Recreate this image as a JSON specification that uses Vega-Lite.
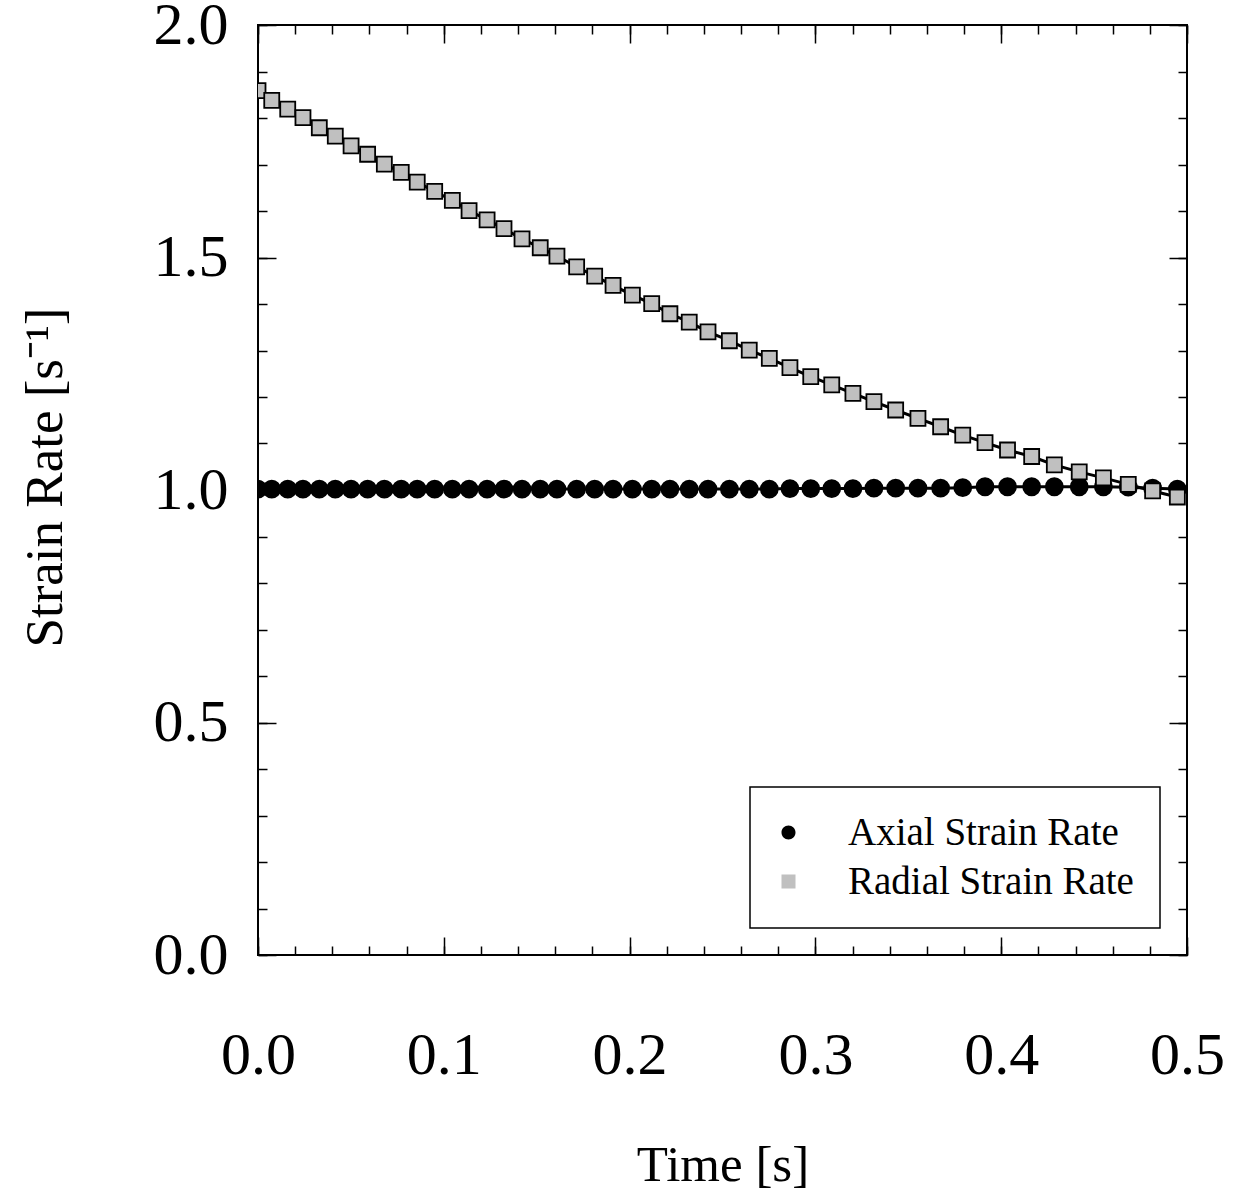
{
  "$schema": "https://vega.github.io/schema/vega-lite/v6.json",
  "width": 929,
  "height": 930,
  "autosize": "none",
  "padding": {"left": 258, "top": 25, "right": 46, "bottom": 245},
  "config": {
    "font": "Liberation Serif",
    "view": {"stroke": "black", "strokeWidth": 2},
    "axis": {"grid": false, "domain": false, "tickColor": "black", "tickWidth": 1.5, "labelColor": "black", "titleColor": "black", "labelFont": "Liberation Serif", "titleFont": "Liberation Serif", "titleFontWeight": "normal"},
    "legend": {"strokeWidth": 1.5}
  },
  "data": {"values": [
    {"t": 0, "v": 1.002, "series": "Axial Strain Rate"},
    {"t": 0.0074, "v": 1.002, "series": "Axial Strain Rate"},
    {"t": 0.0160, "v": 1.002, "series": "Axial Strain Rate"},
    {"t": 0.0242, "v": 1.002, "series": "Axial Strain Rate"},
    {"t": 0.0330, "v": 1.002, "series": "Axial Strain Rate"},
    {"t": 0.0416, "v": 1.002, "series": "Axial Strain Rate"},
    {"t": 0.0501, "v": 1.002, "series": "Axial Strain Rate"},
    {"t": 0.0590, "v": 1.002, "series": "Axial Strain Rate"},
    {"t": 0.0680, "v": 1.002, "series": "Axial Strain Rate"},
    {"t": 0.0771, "v": 1.002, "series": "Axial Strain Rate"},
    {"t": 0.0857, "v": 1.002, "series": "Axial Strain Rate"},
    {"t": 0.0951, "v": 1.002, "series": "Axial Strain Rate"},
    {"t": 0.1046, "v": 1.002, "series": "Axial Strain Rate"},
    {"t": 0.1136, "v": 1.002, "series": "Axial Strain Rate"},
    {"t": 0.1233, "v": 1.002, "series": "Axial Strain Rate"},
    {"t": 0.1324, "v": 1.002, "series": "Axial Strain Rate"},
    {"t": 0.1421, "v": 1.002, "series": "Axial Strain Rate"},
    {"t": 0.1519, "v": 1.002, "series": "Axial Strain Rate"},
    {"t": 0.1609, "v": 1.002, "series": "Axial Strain Rate"},
    {"t": 0.1715, "v": 1.002, "series": "Axial Strain Rate"},
    {"t": 0.1812, "v": 1.002, "series": "Axial Strain Rate"},
    {"t": 0.1911, "v": 1.002, "series": "Axial Strain Rate"},
    {"t": 0.2015, "v": 1.002, "series": "Axial Strain Rate"},
    {"t": 0.2119, "v": 1.002, "series": "Axial Strain Rate"},
    {"t": 0.2217, "v": 1.002, "series": "Axial Strain Rate"},
    {"t": 0.2321, "v": 1.002, "series": "Axial Strain Rate"},
    {"t": 0.2422, "v": 1.002, "series": "Axial Strain Rate"},
    {"t": 0.2537, "v": 1.002, "series": "Axial Strain Rate"},
    {"t": 0.2644, "v": 1.002, "series": "Axial Strain Rate"},
    {"t": 0.2752, "v": 1.002, "series": "Axial Strain Rate"},
    {"t": 0.2863, "v": 1.003, "series": "Axial Strain Rate"},
    {"t": 0.2975, "v": 1.003, "series": "Axial Strain Rate"},
    {"t": 0.3088, "v": 1.003, "series": "Axial Strain Rate"},
    {"t": 0.3202, "v": 1.003, "series": "Axial Strain Rate"},
    {"t": 0.3315, "v": 1.004, "series": "Axial Strain Rate"},
    {"t": 0.3432, "v": 1.004, "series": "Axial Strain Rate"},
    {"t": 0.3552, "v": 1.004, "series": "Axial Strain Rate"},
    {"t": 0.3674, "v": 1.004, "series": "Axial Strain Rate"},
    {"t": 0.3793, "v": 1.005, "series": "Axial Strain Rate"},
    {"t": 0.3913, "v": 1.007, "series": "Axial Strain Rate"},
    {"t": 0.4034, "v": 1.007, "series": "Axial Strain Rate"},
    {"t": 0.4164, "v": 1.007, "series": "Axial Strain Rate"},
    {"t": 0.4286, "v": 1.007, "series": "Axial Strain Rate"},
    {"t": 0.4420, "v": 1.007, "series": "Axial Strain Rate"},
    {"t": 0.4550, "v": 1.007, "series": "Axial Strain Rate"},
    {"t": 0.4684, "v": 1.006, "series": "Axial Strain Rate"},
    {"t": 0.4815, "v": 1.004, "series": "Axial Strain Rate"},
    {"t": 0.4948, "v": 1.002, "series": "Axial Strain Rate"},
    {"t": 0, "v": 1.859, "series": "Radial Strain Rate"},
    {"t": 0.0074, "v": 1.838, "series": "Radial Strain Rate"},
    {"t": 0.0160, "v": 1.819, "series": "Radial Strain Rate"},
    {"t": 0.0242, "v": 1.801, "series": "Radial Strain Rate"},
    {"t": 0.0330, "v": 1.779, "series": "Radial Strain Rate"},
    {"t": 0.0416, "v": 1.761, "series": "Radial Strain Rate"},
    {"t": 0.0501, "v": 1.740, "series": "Radial Strain Rate"},
    {"t": 0.0590, "v": 1.722, "series": "Radial Strain Rate"},
    {"t": 0.0680, "v": 1.701, "series": "Radial Strain Rate"},
    {"t": 0.0771, "v": 1.683, "series": "Radial Strain Rate"},
    {"t": 0.0857, "v": 1.662, "series": "Radial Strain Rate"},
    {"t": 0.0951, "v": 1.642, "series": "Radial Strain Rate"},
    {"t": 0.1046, "v": 1.623, "series": "Radial Strain Rate"},
    {"t": 0.1136, "v": 1.601, "series": "Radial Strain Rate"},
    {"t": 0.1233, "v": 1.581, "series": "Radial Strain Rate"},
    {"t": 0.1324, "v": 1.562, "series": "Radial Strain Rate"},
    {"t": 0.1421, "v": 1.540, "series": "Radial Strain Rate"},
    {"t": 0.1519, "v": 1.521, "series": "Radial Strain Rate"},
    {"t": 0.1609, "v": 1.503, "series": "Radial Strain Rate"},
    {"t": 0.1715, "v": 1.480, "series": "Radial Strain Rate"},
    {"t": 0.1812, "v": 1.460, "series": "Radial Strain Rate"},
    {"t": 0.1911, "v": 1.440, "series": "Radial Strain Rate"},
    {"t": 0.2015, "v": 1.419, "series": "Radial Strain Rate"},
    {"t": 0.2119, "v": 1.401, "series": "Radial Strain Rate"},
    {"t": 0.2217, "v": 1.379, "series": "Radial Strain Rate"},
    {"t": 0.2321, "v": 1.361, "series": "Radial Strain Rate"},
    {"t": 0.2422, "v": 1.340, "series": "Radial Strain Rate"},
    {"t": 0.2537, "v": 1.321, "series": "Radial Strain Rate"},
    {"t": 0.2644, "v": 1.301, "series": "Radial Strain Rate"},
    {"t": 0.2752, "v": 1.283, "series": "Radial Strain Rate"},
    {"t": 0.2863, "v": 1.263, "series": "Radial Strain Rate"},
    {"t": 0.2975, "v": 1.244, "series": "Radial Strain Rate"},
    {"t": 0.3088, "v": 1.226, "series": "Radial Strain Rate"},
    {"t": 0.3202, "v": 1.208, "series": "Radial Strain Rate"},
    {"t": 0.3315, "v": 1.190, "series": "Radial Strain Rate"},
    {"t": 0.3432, "v": 1.172, "series": "Radial Strain Rate"},
    {"t": 0.3552, "v": 1.154, "series": "Radial Strain Rate"},
    {"t": 0.3674, "v": 1.136, "series": "Radial Strain Rate"},
    {"t": 0.3793, "v": 1.118, "series": "Radial Strain Rate"},
    {"t": 0.3913, "v": 1.102, "series": "Radial Strain Rate"},
    {"t": 0.4034, "v": 1.086, "series": "Radial Strain Rate"},
    {"t": 0.4164, "v": 1.072, "series": "Radial Strain Rate"},
    {"t": 0.4286, "v": 1.054, "series": "Radial Strain Rate"},
    {"t": 0.4420, "v": 1.039, "series": "Radial Strain Rate"},
    {"t": 0.4550, "v": 1.026, "series": "Radial Strain Rate"},
    {"t": 0.4684, "v": 1.012, "series": "Radial Strain Rate"},
    {"t": 0.4815, "v": 0.998, "series": "Radial Strain Rate"},
    {"t": 0.4948, "v": 0.985, "series": "Radial Strain Rate"}
  ]},
  "layer": [
    {
      "mark": {"type": "line", "color": "black", "strokeWidth": 3, "clip": true},
      "encoding": {
        "x": {"field": "t", "type": "quantitative", "scale": {"domain": [0, 0.5], "nice": false, "zero": false},
          "axis": {"orient": "bottom", "values": [0, 0.1, 0.2, 0.3, 0.4, 0.5], "format": ".1f", "tickSize": -18, "labelFontSize": 60, "labelPadding": 118, "labelBaseline": "middle", "labelFlush": false, "labelOverlap": false, "title": "Time [s]", "titleFontSize": 51, "titleX": 464.5, "titleY": 210, "titleBaseline": "middle", "titleAlign": "center"}},
        "y": {"field": "v", "type": "quantitative", "scale": {"domain": [0, 2], "nice": false, "zero": false},
          "axis": {"orient": "left", "values": [0, 0.5, 1, 1.5, 2], "format": ".1f", "tickSize": -18, "labelFontSize": 60, "labelPadding": 48, "labelBaseline": "middle", "labelFlush": false, "labelOverlap": false, "title": "Strain Rate [s⁻¹]", "titleFontSize": 53, "titleX": -213, "titleY": 452, "titleAngle": -90, "titleBaseline": "middle", "titleAlign": "center"}},
        "detail": {"field": "series"}
      }
    },
    {
      "mark": {"type": "point", "filled": true, "stroke": "black", "strokeWidth": 1.8, "opacity": 1, "clip": true},
      "encoding": {
        "x": {"field": "t", "type": "quantitative",
          "axis": {"orient": "bottom", "values": [0, 0.02, 0.04, 0.06, 0.08, 0.1, 0.12, 0.14, 0.16, 0.18, 0.2, 0.22, 0.24, 0.26, 0.28, 0.3, 0.32, 0.34, 0.36, 0.38, 0.4, 0.42, 0.44, 0.46, 0.48, 0.5], "tickSize": -9, "labels": false, "title": null}},
        "y": {"field": "v", "type": "quantitative",
          "axis": {"orient": "left", "values": [0, 0.1, 0.2, 0.3, 0.4, 0.5, 0.6, 0.7, 0.8, 0.9, 1, 1.1, 1.2, 1.3, 1.4, 1.5, 1.6, 1.7, 1.8, 1.9, 2], "tickSize": -9, "labels": false, "title": null}},
        "shape": {"field": "series", "type": "nominal", "scale": {"domain": ["Axial Strain Rate", "Radial Strain Rate"], "range": ["circle", "square"]}, "legend": null},
        "fill": {"field": "series", "type": "nominal", "scale": {"domain": ["Axial Strain Rate", "Radial Strain Rate"], "range": ["black", "#c0c0c0"]}, "legend": null},
        "size": {"field": "series", "type": "nominal", "scale": {"domain": ["Axial Strain Rate", "Radial Strain Rate"], "range": [289, 225]}, "legend": null}
      }
    },
    {
      "mark": {"type": "point", "filled": true, "stroke": "black", "strokeWidth": 2.2, "opacity": 0},
      "encoding": {
        "x": {"field": "t", "type": "quantitative",
          "axis": {"orient": "top", "values": [0, 0.1, 0.2, 0.3, 0.4, 0.5], "tickSize": -18, "labels": false, "title": null}},
        "y": {"field": "v", "type": "quantitative",
          "axis": {"orient": "right", "values": [0, 0.5, 1, 1.5, 2], "tickSize": -18, "labels": false, "title": null}},
        "shape": {"field": "series", "type": "nominal",
          "scale": {"range": ["M-4.86,0H4.86M1,0A1,1,0,1,1,-1,0A1,1,0,1,1,1,0Z", "M-4.86,0H-1M1,0H4.86M-1,-1H1V1H-1Z"]},
          "legend": {
            "orient": "bottom-right", "offset": 27, "title": null, "padding": 26,
            "strokeColor": "black", "fillColor": "white", "cornerRadius": 0,
            "labelFontSize": 39, "labelFont": "Liberation Serif", "labelColor": "black", "labelLimit": 1000,
            "symbolSize": 196, "symbolStrokeWidth": 2.2, "symbolStrokeColor": "black", "symbolOpacity": 1,
            "rowPadding": 9, "symbolOffset": -7, "labelOffset": 40
          }},
        "fill": {"field": "series", "type": "nominal",
          "scale": {"range": ["black", "#c0c0c0"]},
          "legend": {
            "orient": "bottom-right", "offset": 27, "title": null, "padding": 26,
            "strokeColor": "black", "fillColor": "white", "cornerRadius": 0,
            "labelFontSize": 39, "labelFont": "Liberation Serif", "labelColor": "black", "labelLimit": 1000,
            "symbolSize": 196, "symbolStrokeWidth": 2.2, "symbolStrokeColor": "black", "symbolOpacity": 1,
            "rowPadding": 9, "symbolOffset": -7, "labelOffset": 40
          }}
      }
    },
    {
      "mark": {"type": "point", "opacity": 0},
      "encoding": {
        "x": {"field": "t", "type": "quantitative",
          "axis": {"orient": "top", "values": [0, 0.02, 0.04, 0.06, 0.08, 0.1, 0.12, 0.14, 0.16, 0.18, 0.2, 0.22, 0.24, 0.26, 0.28, 0.3, 0.32, 0.34, 0.36, 0.38, 0.4, 0.42, 0.44, 0.46, 0.48, 0.5], "tickSize": -9, "labels": false, "title": null}},
        "y": {"field": "v", "type": "quantitative",
          "axis": {"orient": "right", "values": [0, 0.1, 0.2, 0.3, 0.4, 0.5, 0.6, 0.7, 0.8, 0.9, 1, 1.1, 1.2, 1.3, 1.4, 1.5, 1.6, 1.7, 1.8, 1.9, 2], "tickSize": -9, "labels": false, "title": null}}
      }
    }
  ],
  "resolve": {"axis": {"x": "independent", "y": "independent"}, "scale": {"shape": "independent", "fill": "independent"}}
}
